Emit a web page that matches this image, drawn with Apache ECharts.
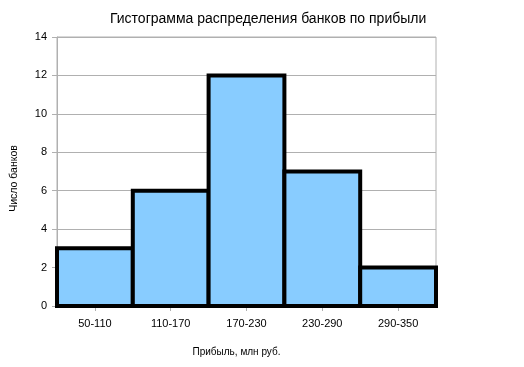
<!DOCTYPE html>
<html><head><meta charset="utf-8">
<script src="https://cdn.jsdelivr.net/npm/echarts@6/dist/echarts.min.js"></script>
<style>html,body{margin:0;padding:0;background:#fff}#c{width:524px;height:367px}</style>
</head><body><div id="c"></div>
<script>
var titleText = 'Гистограмма распределения банков по прибыли';
var categories = ['50-110', '110-170', '170-230', '230-290', '290-350'];
var counts = [3, 6, 12, 7, 2];
var xName = 'Прибыль, млн руб.';
var yName = 'Число банков';

var chart = echarts.init(document.getElementById('c'), null, {renderer: 'canvas'});
chart.setOption({
  animation: false,
  backgroundColor: '#fff',
  title: {
    text: titleText, left: 105, top: 7,
    textStyle: {fontFamily: 'Arial, Liberation Sans', fontSize: 14, fontWeight: 'normal', color: '#000'}
  },
  grid: {left: 57, right: 88, top: 37, bottom: 61, show: true, borderColor: '#b0b0b0', borderWidth: 1},
  xAxis: {
    type: 'category', data: categories,
    name: xName, nameLocation: 'middle', nameGap: 41,
    nameTextStyle: {fontFamily: 'Arial, Liberation Sans', fontSize: 10, color: '#000', padding: [0, 20, 0, 0]},
    axisLine: {show: true, lineStyle: {color: '#b0b0b0'}},
    axisTick: {show: true, alignWithLabel: true, length: 5, lineStyle: {color: '#b0b0b0'}},
    axisLabel: {fontFamily: 'Arial, Liberation Sans', fontSize: 11, color: '#000', margin: 12},
    splitLine: {show: false}
  },
  yAxis: {
    type: 'value', min: 0, max: 14, interval: 2,
    name: yName, nameLocation: 'middle', nameGap: 37, nameRotate: 90,
    nameTextStyle: {fontFamily: 'Arial, Liberation Sans', fontSize: 10.5, fontWeight: 'normal', color: '#000', padding: [0, 14, 0, 0]},
    axisLine: {show: true, lineStyle: {color: '#b0b0b0'}},
    axisTick: {show: true, length: 5, lineStyle: {color: '#b0b0b0'}},
    axisLabel: {fontFamily: 'Arial, Liberation Sans', fontSize: 11, color: '#000', margin: 10},
    splitLine: {show: true, lineStyle: {color: '#b0b0b0', width: 1}}
  },
  series: [{
    type: 'custom',
    clip: false,
    data: counts.map(function (v, i) { return [i, v]; }),
    encode: {x: 0, y: 1},
    renderItem: function (params, api) {
      var i = api.value(0), v = api.value(1);
      var base = api.coord([i, 0]);
      var top = api.coord([i, v]);
      var w = api.size([1, 0])[0];
      return {
        type: 'rect',
        shape: {x: base[0] - w / 2, y: top[1], width: w, height: base[1] - top[1]},
        style: {fill: '#88ccff', stroke: '#000', lineWidth: 4}
      };
    }
  }]
});
</script></body></html>
